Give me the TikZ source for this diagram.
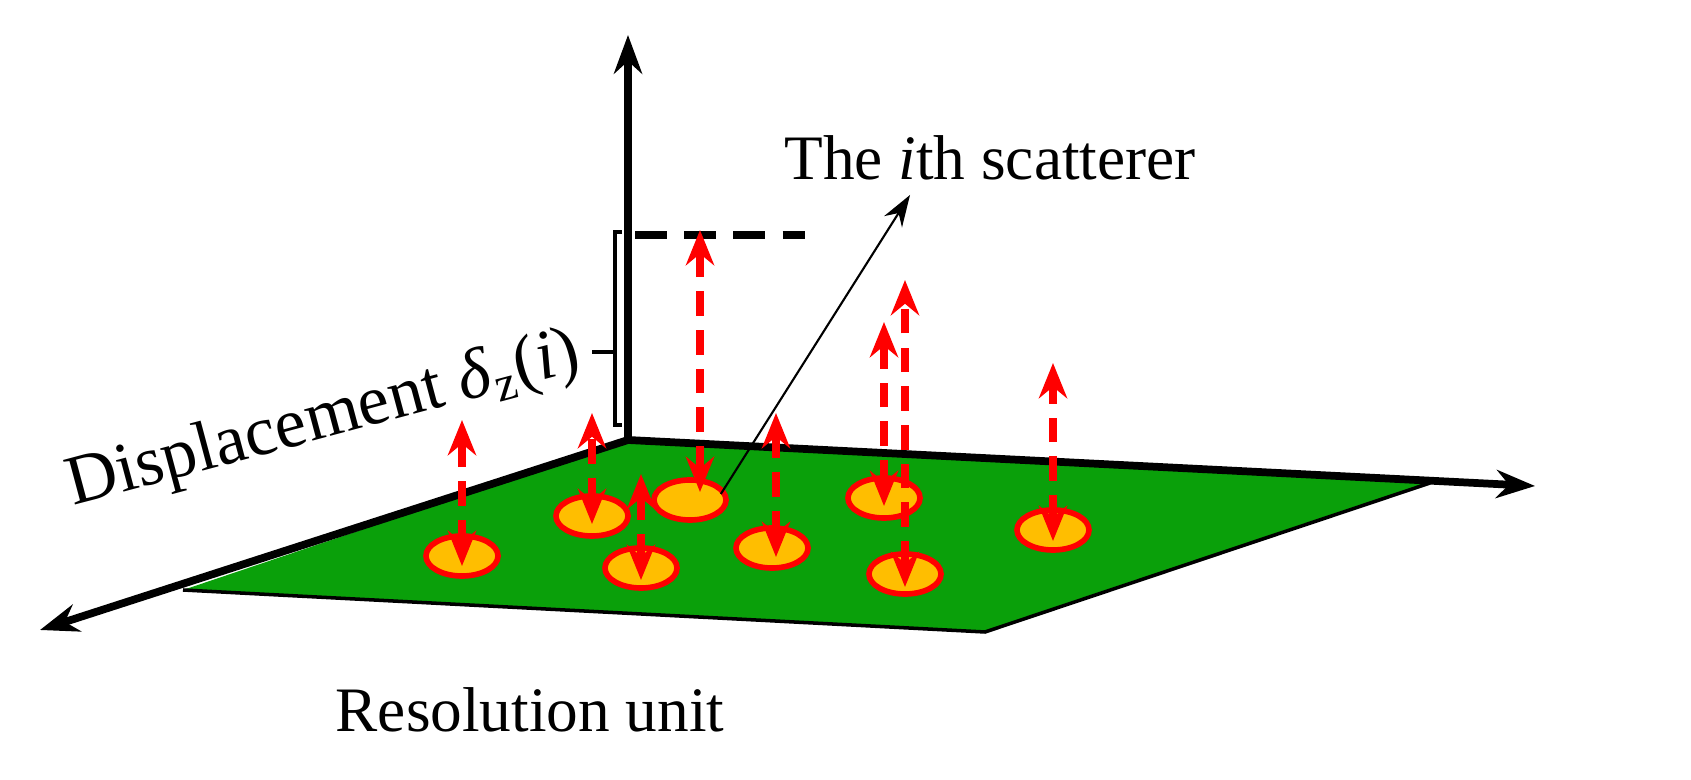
\documentclass[tikz,border=0pt]{standalone}
\usepackage{fontspec}
\setmainfont{Liberation Serif}
\usetikzlibrary{arrows.meta,shapes.geometric}
\definecolor{plane}{RGB}{10,160,10}
\definecolor{scatfill}{RGB}{255,190,0}
\begin{document}
\begin{tikzpicture}[x=0.01cm,y=-0.01cm,
  ax/.style={line width=2.2pt,-{Stealth[length=11pt,width=8pt]}},
  scat/.style={ellipse,draw=red,line width=1.6pt,fill=scatfill,minimum width=0.72cm,minimum height=0.40cm,inner sep=0},
  disp/.style={red,line width=2pt,dash pattern=on 7pt off 4pt,{Stealth[length=10pt,width=8pt]}-{Stealth[length=10pt,width=8pt]}}]
\useasboundingbox (0,0) rectangle (1691,780);
\coordinate (o) at (628,440);
\coordinate (zt) at (628,35);
\coordinate (xr) at (1535,486);
\coordinate (xl) at (40,630);
\fill[plane] (o) -- (1430,483) -- (985,632) -- (183,590) -- cycle;
\draw[line width=1pt] (1430,483) -- (985,632) -- (183,590);
\draw[ax] (o) -- (zt);
\draw[ax] (o) -- (xr);
\draw[ax] (o) -- (xl);
\draw[line width=2pt,dash pattern=on 9pt off 5pt] (635,235) -- (805,235);
\draw[line width=1.2pt] (622,232) -- (615,232) -- (615,425) -- (622,425);
\draw[line width=1.2pt] (615,352) -- (592,352);
\node[rotate=15,font=\fontsize{20}{24}\selectfont,anchor=south east,inner sep=0] (dl) at (588,384) {Displacement \textit{δ}\textsubscript{z}(\textit{i})};
\foreach \n/\x/\y in {a/462/556, b/592/516, c/641/568, d/690/500, e/772/548, f/884/498, g/905/574, h/1053/530}{
  \node[scat] (\n) at (\x,\y) {};
}
\foreach \x/\t/\b in {462/420/566, 592/413/524, 641/474/580, 700/230/492, 776/413/557, 884/322/506, 905/280/587, 1053/363/541}{
  \coordinate (t\x) at (\x,\t); \coordinate (b\x) at (\x,\b);
  \draw[disp] (b\x) -- (t\x);
}
\node[font=\fontsize{18}{21}\selectfont,inner sep=2pt] (lab) at (990,158) {The \textit{i}th scatterer};
\coordinate (pt) at (910,195);
\draw[-{Stealth[length=9pt,width=6pt]},line width=0.6pt] (d.east) ++(-8,-6) -- (pt);
\node[font=\fontsize{18}{21}\selectfont] (ru) at (530,710) {Resolution unit};
\end{tikzpicture}
\end{document}
